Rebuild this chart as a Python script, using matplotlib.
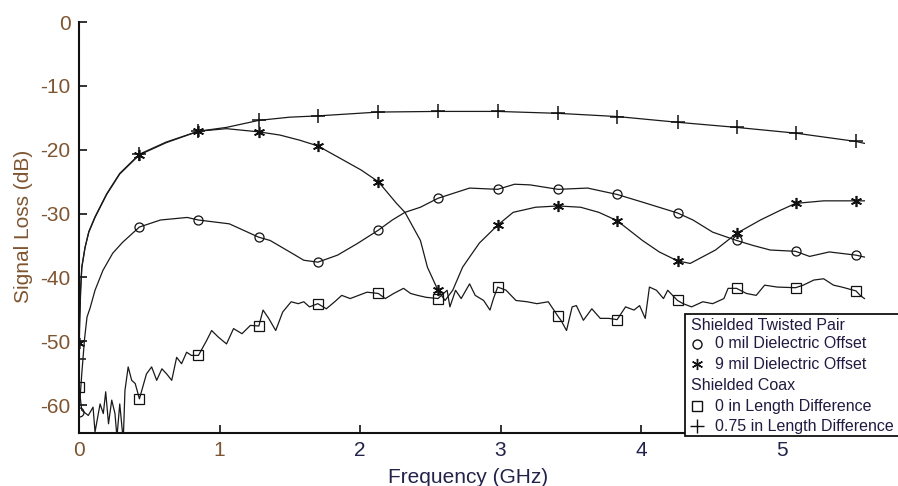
import matplotlib
matplotlib.use("Agg")
import matplotlib.pyplot as plt
from matplotlib.lines import Line2D
from matplotlib.patches import Rectangle

plt.rcParams['font.family'] = ['Liberation Sans', 'DejaVu Sans']

# ---------------- data ----------------
x_ticks = [0, 1, 2, 3, 4, 5]
y_ticks = [0, -10, -20, -30, -40, -50, -60]

# marker positions (GHz), common to all traces
mark_freq = [0.0, 0.43, 0.85, 1.28, 1.70, 2.13, 2.555, 2.98, 3.41, 3.83, 4.26, 4.68, 5.10, 5.53]

# Shielded coax, 0.75 in length difference (+)
coax075_f = [0.0, 0.005, 0.012, 0.02, 0.043, 0.07, 0.114, 0.197, 0.29, 0.43, 0.62, 0.85, 1.05,
             1.28, 1.50, 1.70, 2.13, 2.555, 2.98, 3.41, 3.83, 4.26, 4.68, 5.10, 5.53, 5.59]
coax075_v = [-52.7, -47, -42, -38.5, -35.3, -32.8, -30.5, -26.9, -23.7, -20.7, -18.8, -17.1, -16.5,
             -15.4, -14.9, -14.7, -14.1, -14.0, -14.0, -14.3, -14.8, -15.7, -16.5, -17.4, -18.7, -19.0]
coax075_mark = [-52.7, -20.7, -17.1, -15.4, -14.7, -14.1, -14.0, -14.0, -14.3, -14.8, -15.7, -16.5, -17.4, -18.7]

# Shielded twisted pair, 9 mil dielectric offset (*)
stp9_f = [0.0, 0.005, 0.012, 0.02, 0.043, 0.07, 0.114, 0.197, 0.29, 0.43, 0.62, 0.85, 1.05, 1.28,
          1.43, 1.57, 1.70, 1.88, 2.01, 2.13, 2.18, 2.26, 2.32, 2.43, 2.48, 2.555, 2.605, 2.66,
          2.73, 2.78, 2.85, 2.98, 3.09, 3.25, 3.41, 3.57, 3.70, 3.83, 4.01, 4.13, 4.26, 4.35,
          4.53, 4.68, 4.85, 4.99, 5.10, 5.30, 5.53, 5.59]
stp9_v = [-50.3, -46, -41.5, -38.3, -35.3, -32.9, -30.6, -27.0, -23.8, -20.8, -18.9, -17.1, -16.7, -17.2,
          -17.7, -18.5, -19.4, -21.6, -23.2, -25.0, -26.3, -28.4, -29.8, -34.2, -38.4, -42.0, -43.6, -42.0,
          -38.4, -36.8, -34.6, -31.8, -29.8, -29.0, -28.8, -29.0, -29.8, -31.1, -34.2, -36.0, -37.4, -37.8,
          -35.7, -33.1, -31.0, -29.5, -28.4, -28.0, -28.0, -28.0]
stp9_mark = [-50.3, -20.8, -17.1, -17.2, -19.4, -25.0, -42.0, -31.8, -28.8, -31.1, -37.4, -33.1, -28.4, -28.0]

# Shielded twisted pair, 0 mil dielectric offset (o)
stp0_f = [0.0, 0.02, 0.04, 0.057, 0.08, 0.114, 0.17, 0.24, 0.31, 0.43, 0.58, 0.77, 0.85, 1.07,
          1.28, 1.36, 1.50, 1.60, 1.70, 1.84, 1.98, 2.13, 2.23, 2.32, 2.43, 2.555, 2.78, 2.98,
          3.10, 3.21, 3.41, 3.62, 3.83, 4.01, 4.26, 4.37, 4.51, 4.68, 4.80, 4.92, 5.10, 5.20,
          5.34, 5.53, 5.59]
stp0_v = [-61.1, -55, -49.5, -46.2, -44.7, -42.0, -38.9, -36.2, -34.5, -32.1, -31.0, -30.6, -31.0, -31.6,
          -33.7, -34.2, -36.0, -37.3, -37.6, -36.5, -34.7, -32.6, -31.0, -29.8, -29.0, -27.6, -26.0, -26.2,
          -25.4, -25.5, -26.2, -26.0, -27.0, -28.2, -29.9, -31.0, -32.9, -34.2, -35.0, -35.7, -35.9, -36.7,
          -36.0, -36.5, -36.8]
stp0_mark = [-61.1, -32.1, -31.0, -33.7, -37.6, -32.6, -27.6, -26.2, -26.2, -27.0, -29.9, -34.2, -35.9, -36.5]

# Shielded coax, 0 in length difference (square) - noisy trace
coax0_f = [0.0, 0.02, 0.066, 0.10, 0.114, 0.15, 0.173, 0.19, 0.21, 0.233, 0.256, 0.27, 0.29, 0.315,
           0.327, 0.35, 0.375, 0.40, 0.43, 0.48, 0.517, 0.553, 0.59, 0.624, 0.66, 0.695, 0.73, 0.766,
           0.80, 0.85, 0.91, 0.944, 0.99, 1.05, 1.10, 1.16, 1.22, 1.28, 1.31, 1.35, 1.40, 1.45,
           1.51, 1.56, 1.60, 1.64, 1.70, 1.76, 1.82, 1.87, 1.93, 1.99, 2.05, 2.13, 2.18, 2.24,
           2.31, 2.36, 2.41, 2.47, 2.555, 2.62, 2.64, 2.68, 2.72, 2.78, 2.82, 2.88, 2.925, 2.95,
           2.98, 3.04, 3.11, 3.19, 3.26, 3.34, 3.41, 3.43, 3.47, 3.51, 3.54, 3.59, 3.65, 3.71,
           3.77, 3.83, 3.89, 3.95, 3.99, 4.03, 4.06, 4.11, 4.16, 4.19, 4.26, 4.30, 4.36, 4.44,
           4.51, 4.59, 4.62, 4.68, 4.75, 4.82, 4.88, 4.97, 5.10, 5.155, 5.23, 5.30, 5.37, 5.43,
           5.53, 5.56, 5.59]
coax0_v = [-57.2, -60.8, -61.6, -60.3, -64.2, -59.8, -61.3, -57.9, -62.9, -59.2, -61.3, -65.0, -59.8, -65.5,
           -57.7, -54.0, -56.1, -56.6, -59.0, -55.1, -54.0, -56.1, -54.3, -55.1, -56.1, -52.5, -53.5, -51.7,
           -52.2, -52.2, -49.8, -48.3, -49.3, -50.4, -48.0, -48.8, -47.5, -47.6, -45.1, -46.4, -48.3, -45.4,
           -43.8, -44.1, -43.8, -44.6, -44.1, -44.9, -43.8, -42.8, -43.3, -42.8, -42.3, -42.5, -43.3, -42.5,
           -41.7, -42.5, -42.8, -43.1, -43.3, -42.0, -44.6, -42.0, -43.3, -41.0, -42.8, -43.6, -45.1, -43.3,
           -41.5, -42.0, -43.6, -43.8, -44.1, -43.8, -46.1, -46.7, -48.3, -44.6, -44.4, -46.7, -44.9, -46.4,
           -46.4, -46.6, -44.6, -45.1, -44.4, -46.4, -41.5, -42.0, -43.3, -42.0, -43.6, -44.1, -44.6, -43.8,
           -44.1, -43.3, -41.7, -41.7, -42.5, -42.8, -41.2, -41.5, -41.6, -41.2, -40.4, -40.2, -41.2, -41.5,
           -42.1, -42.8, -43.3]
coax0_mark = [-57.2, -59.0, -52.2, -47.6, -44.1, -42.5, -43.3, -41.5, -46.1, -46.6, -43.6, -41.7, -41.6, -42.1]

legend_groups = ["Shielded Twisted Pair", "Shielded Coax"]
legend_labels = ["0 mil Dielectric Offset", "9 mil Dielectric Offset",
                 "0 in Length Difference", "0.75 in Length Difference"]

# ---------------- styling ----------------
W, H = 898, 486
fig = plt.figure(figsize=(W / 100, H / 100), dpi=100)
ax_left, ax_bottom = 79 / W, 1 - 432.7 / H
ax = fig.add_axes([ax_left, ax_bottom, 1.0 - ax_left, (432.7 - 22) / H])

line_kw = dict(color='#1a1a1a', lw=0.9)
asterisk = (6, 2, 0)
series = [
    (coax075_f, coax075_v, coax075_mark, '+', 10, 1.1),
    (stp9_f, stp9_v, stp9_mark, asterisk, 8, 1.2),
    (stp0_f, stp0_v, stp0_mark, 'o', 6.5, 0.9),
    (coax0_f, coax0_v, coax0_mark, 's', 7, 0.9),
]
for f, v, mv, mk, ms, mew in series:
    ax.plot(f, v, **line_kw)
    ax.plot(mark_freq, mv, linestyle='none', marker=mk, markersize=ms,
            markerfacecolor='none', markeredgecolor='#111111', markeredgewidth=mew)

ax.set_xlim(0, (W - 79) / 140.5)
ax.set_ylim(-64.3, 0)
ax.set_xticks(x_ticks)
ax.set_yticks(y_ticks)
ax.set_xticklabels([str(t) for t in x_ticks])
ax.set_yticklabels([str(t) for t in y_ticks])
for s in ['top', 'right']:
    ax.spines[s].set_visible(False)
for s in ['left', 'bottom']:
    ax.spines[s].set_linewidth(1.5)
    ax.spines[s].set_color('#111111')
ax.tick_params(axis='both', direction='in', length=6, width=1.2, labelsize=15, pad=6, color='#111111')

warm = '#7e5530'
cool = '#22224a'
for lbl in ax.get_yticklabels():
    lbl.set_color(warm)
for i, lbl in enumerate(ax.get_xticklabels()):
    lbl.set_color(warm if i < 2 else cool)

ax.set_xlabel("Frequency (GHz)", fontsize=15, color=cool)
ax.xaxis.set_label_coords((468 - 79) / (W - 79), -35.3 / 410.7)
ax.set_ylabel("Signal Loss (dB)", fontsize=15, color=warm)
ax.yaxis.set_label_coords(-46 / (W - 79), (432.7 - 226) / 410.7)

# ---------------- legend (manual, figure coordinates) ----------------
def fx(px):
    return px / W

def fy(py):
    return 1 - py / H

box = Rectangle((fx(685), fy(436)), fx(260), fy(314) - fy(436), transform=fig.transFigure,
                facecolor='white', edgecolor='#111111', lw=1.3, zorder=10)
fig.add_artist(box)
text_color = '#221a40'
rows = [325, 344, 364, 385, 406, 426]
fig.text(fx(691), fy(rows[0]), legend_groups[0], fontsize=11.5, color=text_color, va='center', ha='left', zorder=11)
fig.text(fx(691), fy(rows[3]), legend_groups[1], fontsize=11.5, color=text_color, va='center', ha='left', zorder=11)
entries = [(rows[1], 'o', 6.5, legend_labels[0]), (rows[2], asterisk, 8, legend_labels[1]),
           (rows[4], 's', 7, legend_labels[2]), (rows[5], '+', 10, legend_labels[3])]
for py, mk, ms, lab in entries:
    fig.add_artist(Line2D([fx(697)], [fy(py)], transform=fig.transFigure, marker=mk, markersize=ms,
                          markerfacecolor='none', markeredgecolor='#111111', markeredgewidth=1.0,
                          linestyle='none', zorder=11))
    fig.text(fx(715), fy(py), lab, fontsize=11.5, color=text_color, va='center', ha='left', zorder=11)

fig.savefig("out.png", dpi=100)
